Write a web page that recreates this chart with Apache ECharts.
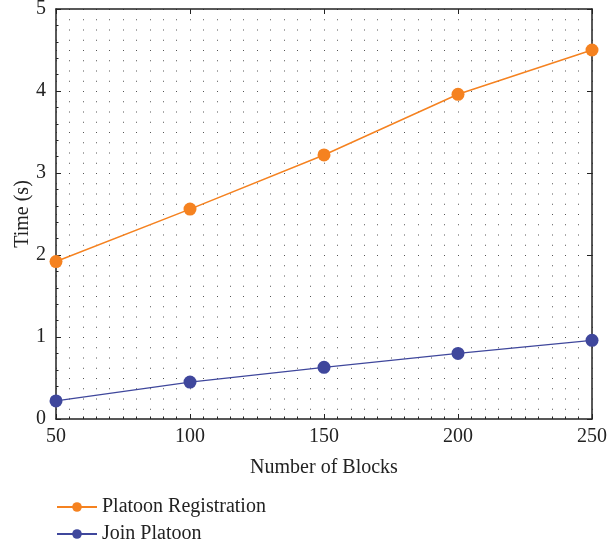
<!DOCTYPE html>
<html>
<head>
<meta charset="utf-8">
<script src="https://cdn.jsdelivr.net/npm/echarts@6/dist/echarts.min.js"></script>
<style>html,body{margin:0;padding:0;background:#fff;}#c{width:607px;height:547px;}</style>
</head>
<body>
<div id="c"></div>
<script>
var blocks = [50, 100, 150, 200, 250];
var registration = [1.92, 2.56, 3.22, 3.96, 4.50];
var joinPlatoon = [0.22, 0.45, 0.63, 0.80, 0.96];
var seriesNames = ['Platoon Registration', 'Join Platoon'];

var FONT = 'Liberation Serif';
var FS = 20;
var dotStyle = { color: '#555', width: 1, type: [1, 9.25] };
var chart = echarts.init(document.getElementById('c'), null, { renderer: 'canvas' });
function pairs(ys) { return blocks.map(function (x, i) { return [x, ys[i]]; }); }
var option = {
  animation: false,
  backgroundColor: '#fff',
  textStyle: { fontFamily: FONT },
  grid: { left: 56, top: 9, right: 15, bottom: 128, containLabel: false, outerBoundsMode: 'none' },
  legend: {
    orient: 'vertical', left: 56, top: 497, padding: 0, itemWidth: 40, itemHeight: 12, itemGap: 7,
    textStyle: { fontFamily: FONT, fontSize: FS, color: '#222' },
    data: seriesNames
  },
  xAxis: [{
    type: 'value', min: 50, max: 250, interval: 50,
    name: 'Number of Blocks', nameLocation: 'middle', nameGap: 39, nameMoveOverlap: false,
    nameTextStyle: { fontFamily: FONT, fontSize: FS, color: '#222' },
    axisLine: { onZero: false, lineStyle: { color: '#222', width: 1.5 } },
    axisTick: { inside: true, length: 5, lineStyle: { color: '#222' } },
    minorTick: { show: true, splitNumber: 10, length: 2.5, lineStyle: { color: '#222' } },
    axisLabel: { fontFamily: FONT, fontSize: FS, color: '#222', margin: 8 },
    splitLine: { show: true, lineStyle: dotStyle },
    minorSplitLine: { show: true, lineStyle: dotStyle }
  }, {
    type: 'value', min: 50, max: 250, interval: 50, position: 'top',
    axisLine: { show: true, onZero: false, lineStyle: { color: '#222', width: 1.5 } },
    axisTick: { show: true, inside: true, length: 5, lineStyle: { color: '#222' } },
    axisLabel: { show: false }, splitLine: { show: false }
  }],
  yAxis: [{
    type: 'value', min: 0, max: 5, interval: 1,
    name: 'Time (s)', nameLocation: 'middle', nameGap: 23, nameMoveOverlap: false,
    nameTextStyle: { fontFamily: FONT, fontSize: FS, color: '#222' },
    axisLine: { show: true, onZero: false, lineStyle: { color: '#222', width: 1.5 } },
    axisTick: { show: true, inside: true, length: 5, lineStyle: { color: '#222' } },
    minorTick: { show: true, splitNumber: 5, length: 2.5, lineStyle: { color: '#222' } },
    axisLabel: { fontFamily: FONT, fontSize: FS, color: '#222', margin: 10 },
    splitLine: { show: false }
  }, {
    type: 'value', min: 0, max: 5, interval: 1, position: 'right',
    axisLine: { show: true, onZero: false, lineStyle: { color: '#222', width: 1.5 } },
    axisTick: { show: true, inside: true, length: 5, lineStyle: { color: '#222' } },
    axisLabel: { show: false }, splitLine: { show: false }
  }],
  series: [{
    name: seriesNames[0], type: 'line', data: pairs(registration),
    symbol: 'circle', symbolSize: 13,
    itemStyle: { color: '#f58220' }, lineStyle: { color: '#f58220', width: 1.5 }
  }, {
    name: seriesNames[1], type: 'line', data: pairs(joinPlatoon),
    symbol: 'circle', symbolSize: 13,
    itemStyle: { color: '#3f479c' }, lineStyle: { color: '#3f479c', width: 1.2 }
  }]
};
chart.setOption(option);
</script>
</body>
</html>
